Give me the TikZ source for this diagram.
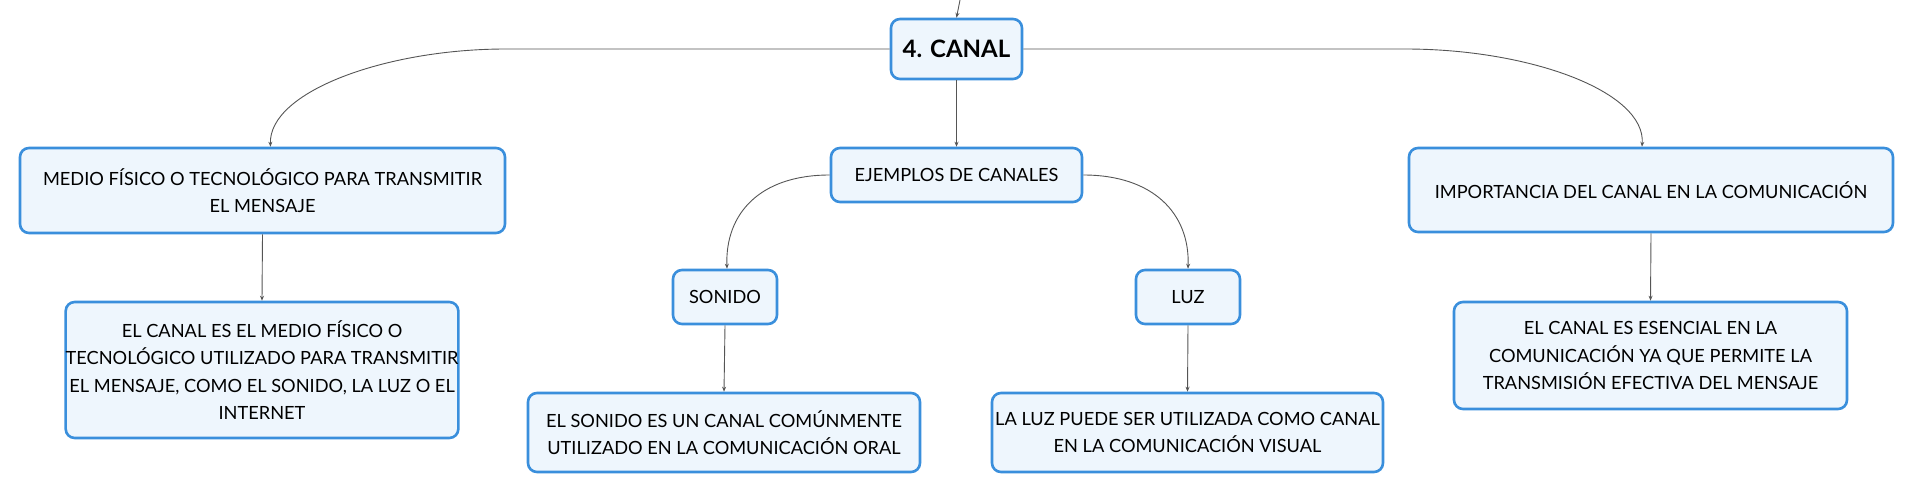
\documentclass[tikz,border=0pt]{standalone}
\usepackage{fontspec}
\setmainfont{Lato}
\usetikzlibrary{arrows.meta}
\definecolor{boxblue}{HTML}{3A8FDC}
\definecolor{boxfill}{HTML}{EEF6FD}
\definecolor{linkgray}{HTML}{555555}
\tikzset{>={Stealth[length=5pt,width=4pt]}}
\tikzset{
  topic/.style={draw=boxblue, fill=boxfill, line width=2.6pt, rounded corners=9pt,
    align=center, inner sep=0pt, font=\fontsize{18.2}{27.5}\selectfont},
  link/.style={->, draw=linkgray, line width=0.9pt}
}

\begin{document}
\begin{tikzpicture}[x=1pt, y=-1pt]
  \useasboundingbox (0, 0) rectangle (1914, 492);
  % central topic
  \node[topic, minimum width=131, minimum height=60,
    font=\fontsize{24}{28}\selectfont\bfseries] (canal) at (956.5, 49) {4. CANAL};
  \coordinate (up) at (960, 0);

  % first level
  \node[topic, minimum width=485, minimum height=85] (medio) at (262.5, 190.5)
    {MEDIO FÍSICO O TECNOLÓGICO PARA TRANSMITIR\\EL MENSAJE};
  \node[topic, minimum width=251, minimum height=54] (ejemplos) at (956.5, 175)
    {EJEMPLOS DE CANALES};
  \node[topic, minimum width=484, minimum height=84] (importancia) at (1651, 190)
    {IMPORTANCIA DEL CANAL EN LA COMUNICACIÓN};

  % second level
  \node[topic, minimum width=392, minimum height=136] (mediotxt) at (262, 370)
    {EL CANAL ES EL MEDIO FÍSICO O\\TECNOLÓGICO UTILIZADO PARA TRANSMITIR\\
     EL MENSAJE, COMO EL SONIDO, LA LUZ O EL\\INTERNET};
  \node[topic, minimum width=104, minimum height=54] (sonido) at (725, 297) {SONIDO};
  \node[topic, minimum width=104, minimum height=54] (luz) at (1188, 297) {LUZ};
  \node[topic, minimum width=393, minimum height=107] (imptxt) at (1650.5, 355.5)
    {EL CANAL ES ESENCIAL EN LA\\COMUNICACIÓN YA QUE PERMITE LA\\
     TRANSMISIÓN EFECTIVA DEL MENSAJE};

  % third level
  \node[topic, minimum width=392, minimum height=79] (sonidotxt) at (724, 432.5)
    {EL SONIDO ES UN CANAL COMÚNMENTE\\UTILIZADO EN LA COMUNICACIÓN ORAL};
  \node[topic, minimum width=391, minimum height=79] (luztxt) at (1187.5, 432.5)
    {LA LUZ PUEDE SER UTILIZADA COMO CANAL\\EN LA COMUNICACIÓN VISUAL};

  % connectors
  \draw[link] (up) -- (canal.north);
  \draw[link] (canal.west) -- +(-384, 0)
    .. controls +(-120, 0) and +(-2, -55) .. ([xshift=8]medio.north);
  \draw[link] (canal.east) -- +(382, 0)
    .. controls +(125, 0) and +(4, -55) .. ([xshift=-9]importancia.north);
  \draw[link] (canal.south) -- (ejemplos.north);
  \draw[link] (ejemplos.west) .. controls +(-70, 0) and +(-2, -55) .. ([xshift=2]sonido.north);
  \draw[link] (ejemplos.east) .. controls +(70, 0) and +(2, -55) .. (luz.north);
  \draw[link] (medio.south) -- (mediotxt.north);
  \draw[link] (sonido.south) -- (sonidotxt.north);
  \draw[link] (luz.south) -- (luztxt.north);
  \draw[link] (importancia.south) -- (imptxt.north);
\end{tikzpicture}
\end{document}
